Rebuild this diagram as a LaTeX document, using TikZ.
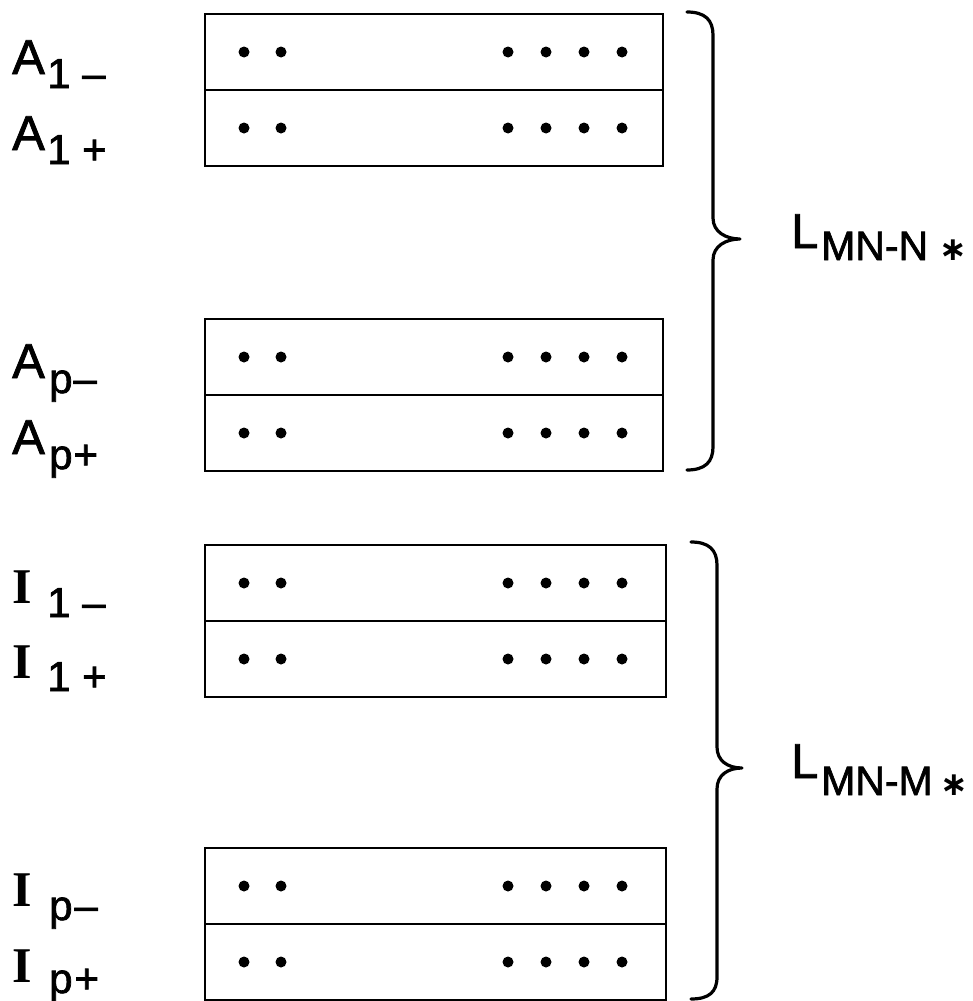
\documentclass[tikz,border=0pt]{standalone}
\usepackage{fontspec}
\newfontfamily\lsans{Liberation Sans}[FakeBold=1.6]
\newfontfamily\lserif{Liberation Serif}
\newfontfamily\dvs{DejaVu Sans}
\tikzset{
  box/.style={draw, line width=2.6pt, inner sep=0pt, outer sep=0pt, minimum height=152pt},
  divider/.style={line width=1.5pt},
  dotmark/.style={circle, fill, inner sep=0pt, minimum size=11pt},
  brace/.style={line width=3.2pt, line cap=round, line join=round},
  mainlab/.style={anchor=base west, inner sep=0pt, font=\lsans\fontsize{49}{49}\selectfont},
  serlab/.style={anchor=base west, inner sep=0pt, font=\lserif\bfseries\fontsize{50}{50}\selectfont},
  sublab/.style={anchor=base west, inner sep=0pt, font=\lsans\fontsize{42}{42}\selectfont},
  biglab/.style={anchor=base west, inner sep=0pt, font=\lsans\fontsize{49}{49}\selectfont},
  bigsub/.style={anchor=base west, inner sep=0pt, font=\lsans\fontsize{41}{41}\selectfont},
  star/.style={anchor=center, inner sep=0pt, font=\dvs\bfseries\fontsize{33}{33}\selectfont},
}
\begin{document}
\begin{tikzpicture}[x=1pt, y=-1pt]
\useasboundingbox (0,0) rectangle (973,1001);
% boxes
\node[box, minimum width=458pt] (b1) at (434,90) {};
\node[box, minimum width=458pt] (b2) at (434,395) {};
\node[box, minimum width=461pt] (b3) at (435.5,621) {};
\node[box, minimum width=461pt] (b4) at (435.5,924) {};
\foreach \b in {b1,b2,b3,b4}{
  \draw[divider] (\b.west) -- (\b.east);
}
% dots
\foreach \b/\cy in {b1/90,b2/395,b3/621,b4/924}{
  \foreach \x in {244,281,508,546,584,622}{
    \node[dotmark] (\b d\x u) at (\x,\cy-38) {};
    \node[dotmark] (\b d\x l) at (\x,\cy+38) {};
  }
}
% left labels
\node[mainlab] (a1m) at (12,74) {A};
\node[sublab] (a1ms) at (47,88) {1 –};
\node[mainlab] (a1p) at (12,150) {A};
\node[sublab] (a1ps) at (47,164) {1 +};
\node[mainlab] (apm) at (12,378) {A};
\node[sublab] (apms) at (49,393) {p\kern1pt–};
\node[mainlab] (app) at (12,454) {A};
\node[sublab] (apps) at (49,469) {p\kern1pt+};
\node[serlab] (i1m) at (12,603) {I};
\node[sublab] (i1ms) at (47,617) {1 –};
\node[serlab] (i1p) at (12,678) {I};
\node[sublab] (i1ps) at (47,691) {1 +};
\node[serlab] (ipm) at (12,906) {I};
\node[sublab] (ipms) at (49,920) {p\kern2pt–};
\node[serlab] (ipp) at (12,982) {I};
\node[sublab] (ipps) at (49,993) {p\kern2pt+};
% braces
\draw[brace] (687,12) .. controls (705,12) and (713,20) .. (713,35) -- (713,218)
  .. controls (713,232) and (726,239) .. (740,239)
  .. controls (726,239) and (713,246) .. (713,260) -- (713,447)
  .. controls (713,462) and (705,470) .. (687,470);
\draw[brace] (691,542) .. controls (709,542) and (717,550) .. (717,565) -- (717,747)
  .. controls (717,761) and (728,768) .. (742,768)
  .. controls (728,768) and (717,775) .. (717,789) -- (717,977)
  .. controls (717,992) and (709,999) .. (691,999);
% right labels
\node[biglab] (l1) at (791,248) {L};
\node[bigsub] (l1s) at (821,260) {MN-N};
\node[star] (l1t) at (953,250) {∗};
\node[biglab] (l2) at (791,778) {L};
\node[bigsub] (l2s) at (821,795) {MN-M};
\node[star] (l2t) at (954,785) {∗};
\end{tikzpicture}
\end{document}
